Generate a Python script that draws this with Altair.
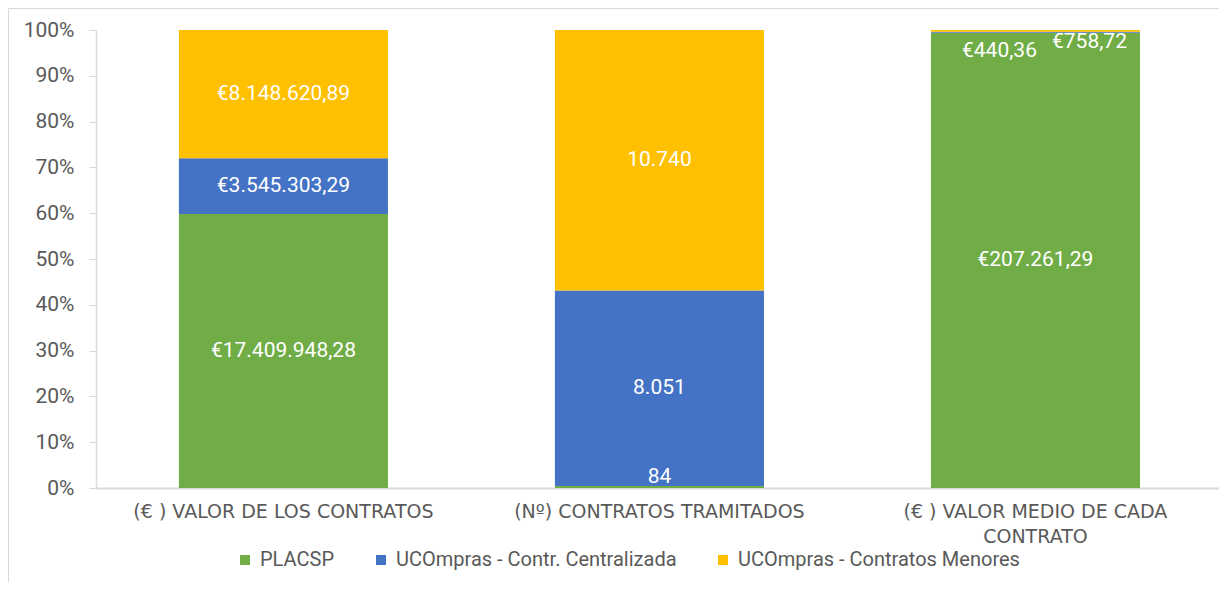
import altair as alt
import pandas as pd

# ---- data ----
categories = [
    "(€ ) VALOR DE LOS CONTRATOS",
    "(Nº) CONTRATOS TRAMITADOS",
    "(€ ) VALOR MEDIO DE CADA CONTRATO",
]
series = ["PLACSP", "UCOmpras - Contr. Centralizada", "UCOmpras - Contratos Menores"]
placsp = [17409948.28, 84, 207261.29]
centralizada = [3545303.29, 8051, 440.36]
menores = [8148620.89, 10740, 758.72]
is_euro = [True, False, True]
colors = ["#70AD47", "#4472C4", "#FFC000"]


def fmt_es(v, euro):
    if euro:
        s = f"{v:,.2f}"
        s = s.replace(",", "X").replace(".", ",").replace("X", ".")
        return "€" + s
    s = f"{int(round(v)):,}".replace(",", ".")
    return s


rows = []
for si, (name, vals) in enumerate(zip(series, [placsp, centralizada, menores])):
    for ci, cat in enumerate(categories):
        rows.append({
            "cat": cat,
            "serie": name,
            "order": si,
            "value": vals[ci],
            "label": fmt_es(vals[ci], is_euro[ci]),
        })
df = pd.DataFrame(rows)

FONT = "Roboto"
GREY = "#595959"
LINE = "#d9d9d9"

x_enc = alt.X(
    "cat:N",
    sort=categories,
    title=None,
    scale=alt.Scale(paddingInner=0.444, paddingOuter=0.2153, align=0.512),
    axis=alt.Axis(
        labelAngle=0,
        labelFont="DejaVu Sans",
        labelFontSize=19,
        labelColor=GREY,
        labelPadding=14,
        labelLimit=500,
        labelLineHeight=25,
        labelExpr="datum.label == '(€ ) VALOR MEDIO DE CADA CONTRATO' ? ['(€ ) VALOR MEDIO DE CADA', 'CONTRATO'] : datum.label",
        ticks=False,
        domainColor=LINE,
        domainWidth=2,
    ),
)

y_scale = alt.Scale(domain=[0, 1], nice=False)

base = alt.Chart(df).transform_stack(
    stack="value",
    groupby=["cat"],
    as_=["v0", "v1"],
    sort=[alt.SortField("order", order="ascending")],
    offset="normalize",
).transform_calculate(mid="(datum.v0 + datum.v1) / 2")

bars = base.mark_bar().encode(
    x=x_enc,
    y=alt.Y(
        "v0:Q",
        scale=y_scale,
        title=None,
        axis=alt.Axis(
            values=[i / 10 for i in range(11)],
            format=".0%",
            labelFont=FONT,
            labelFontSize=21,
            labelColor=GREY,
            labelPadding=15,
            tickSize=7,
            tickColor=LINE,
            domainColor=LINE,
            domainWidth=1.5,
            grid=False,
        ),
    ),
    y2="v1:Q",
    color=alt.Color(
        "serie:N",
        scale=alt.Scale(domain=series, range=colors),
        legend=alt.Legend(
            orient="none",
            legendX=139,
            legendY=520,
            direction="horizontal",
            columns=3,
            title=None,
            symbolType="square",
            symbolSize=100,
            symbolStrokeWidth=0,
            labelFont=FONT,
            labelFontSize=20,
            labelColor=GREY,
            labelOffset=5,
            labelLimit=400,
            columnPadding=36,
        ),
    ),
)

text_style = dict(color="white", font=FONT, fontSize=21, baseline="middle", align="center")

labels_main = base.transform_filter(
    "!(datum.cat == '(Nº) CONTRATOS TRAMITADOS' && datum.order == 0) && !(datum.cat == '(€ ) VALOR MEDIO DE CADA CONTRATO' && datum.order > 0)"
).mark_text(**text_style).encode(
    x=alt.X("cat:N", sort=categories),
    y=alt.Y("mid:Q", scale=y_scale),
    text="label:N",
)

lbl_84 = base.transform_filter(
    "datum.cat == '(Nº) CONTRATOS TRAMITADOS' && datum.order == 0"
).mark_text(dy=-10, **text_style).encode(
    x=alt.X("cat:N", sort=categories), y=alt.Y("mid:Q", scale=y_scale), text="label:N"
)

lbl_440 = base.transform_filter(
    "datum.cat == '(€ ) VALOR MEDIO DE CADA CONTRATO' && datum.order == 1"
).mark_text(dx=-36, dy=19, **text_style).encode(
    x=alt.X("cat:N", sort=categories), y=alt.Y("mid:Q", scale=y_scale), text="label:N"
)

lbl_758 = base.transform_filter(
    "datum.cat == '(€ ) VALOR MEDIO DE CADA CONTRATO' && datum.order == 2"
).mark_text(dx=54, dy=11, **text_style).encode(
    x=alt.X("cat:N", sort=categories), y=alt.Y("mid:Q", scale=y_scale), text="label:N"
)

border = alt.Chart(pd.DataFrame({"k": [0]})).mark_rect(
    fillOpacity=0, stroke=LINE, strokeWidth=1
).encode(
    x=alt.value(-87.5), x2=alt.value(1300), y=alt.value(-21.5), y2=alt.value(800)
)

chart = alt.layer(border, bars, labels_main, lbl_84, lbl_440, lbl_758).properties(
    width=1123,
    height=458,
    padding={"left": 88, "top": 22, "right": 0, "bottom": 94},
    autosize=alt.AutoSizeParams(type="none"),
).configure_view(stroke=None)

chart.save("out.html", embed_options={"renderer": "svg", "actions": False})
